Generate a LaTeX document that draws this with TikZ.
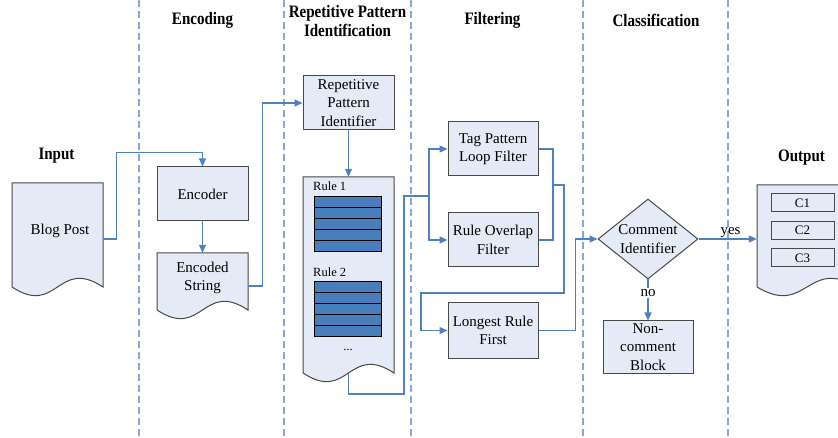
\documentclass[tikz,border=0pt]{standalone}
\usepackage{fontspec}
\setmainfont{Liberation Serif}
\newfontfamily\headfont[FakeStretch=0.86]{Liberation Serif}
\usetikzlibrary{arrows.meta,calc,shapes.geometric}
\definecolor{boxfill}{RGB}{228,234,246}
\definecolor{boxline}{RGB}{72,72,72}
\definecolor{connblue}{RGB}{79,129,189}
\definecolor{dashblue}{RGB}{135,168,214}
\definecolor{barblue}{RGB}{74,126,187}
\begin{document}
\begin{tikzpicture}[x=1pt,y=-1pt,
  head/.style={font=\headfont\bfseries\fontsize{17.5}{18.5}\selectfont, align=center, inner sep=0pt},
  txt/.style={font=\fontsize{15}{18.5}\selectfont, align=center, inner sep=0pt},
  box/.style={draw=boxline, fill=boxfill, line width=1pt, minimum width=91pt, minimum height=54pt, inner sep=1pt, align=center, font=\fontsize{15}{18.5}\selectfont},
  docline/.style={draw=boxline, fill=boxfill, line width=1pt},
  docnode/.style={draw=none, inner sep=0pt, align=center, font=\fontsize{15}{18.5}\selectfont},
  conn/.style={draw=connblue, line width=1.2pt, -{Triangle[length=8pt,width=7pt]}},
  plainconn/.style={draw=connblue, line width=1.2pt},
  sep/.style={draw=dashblue, line width=1.5pt, dash pattern=on 7pt off 4pt},
  bar/.style={draw=black, fill=barblue, line width=0.8pt},
  cbox/.style={draw=boxline, fill=boxfill, line width=1pt, minimum width=63pt, minimum height=18pt, inner sep=0pt, font=\fontsize{13}{14}\selectfont}
]
\useasboundingbox (0,0) rectangle (838,438);
\clip (0,0) rectangle (838,438);

% separators
\foreach \x in {139,284,411,583,728} \draw[sep] (\x,0) -- (\x,438);

% headings
\node[head] (hin)  at (56.5,156) {Input};
\node[head] (henc) at (202.5,20) {Encoding};
\node[head] (hrep) at (347.5,21) {Repetitive Pattern\\Identification};
\node[head] (hfil) at (492.5,20) {Filtering};
\node[head] (hcla) at (656,20) {Classification};
\node[head] (hout) at (801.5,158) {Output};

% Blog post document
\path[docline] (12,183) -- (103,183) -- (103,287) .. controls (57.5,257) and (57.5,317) .. (12,287) -- cycle;
\node[docnode, minimum width=91pt, minimum height=104pt] (blog) at (57.5,235) {};
\node[txt] at (60,231) {Blog Post};

% Encoder
\node[box] (enc) at (202.5,194) {Encoder};

% Encoded string document
\path[docline] (157,253) -- (248,253) -- (248,310) .. controls (202.5,280) and (202.5,340) .. (157,310) -- cycle;
\node[docnode, minimum width=91pt, minimum height=57pt] (encstr) at (202.5,281.5) {};
\node[txt] at (202.5,278) {Encoded\\String};

% Repetitive pattern identifier
\node[box] (rpi) at (348.5,103) {Repetitive\\Pattern\\Identifier};

% Rule document
\path[docline] (303,177) -- (394,177) -- (394,373) .. controls (348.5,343) and (348.5,403) .. (303,373) -- cycle;
\node[docnode, minimum width=91pt, minimum height=196pt] (rules) at (348.5,275) {};
\node[txt, anchor=west, font=\fontsize{12.5}{14}\selectfont] (r1) at (313,186) {Rule 1};
\node[txt, anchor=west, font=\fontsize{12.5}{14}\selectfont] (r2) at (313,272) {Rule 2};
\foreach \i in {0,...,4} {
  \draw[bar] (314,196+11*\i) rectangle (381,207+11*\i);
  \draw[bar] (314,281+11*\i) rectangle (381,292+11*\i);
}
\node[txt, font=\fontsize{12.5}{14}\selectfont] (dots) at (348,350) {...};

% Filters
\node[box, minimum width=90pt] (tpl) at (493,149) {Tag Pattern\\Loop Filter};
\node[box, minimum width=90pt] (rof) at (493,240) {Rule Overlap\\Filter};
\node[box, minimum width=90pt, minimum height=55pt] (lrf) at (493,330.5) {Longest Rule\\First};

% Comment identifier
\node[diamond, draw=boxline, fill=boxfill, line width=1pt, minimum width=100pt, minimum height=80pt, inner sep=0pt] (ci) at (648,239) {};
\node[txt] at (648,239) {Comment\\Identifier};

% Non-comment block
\node[box, minimum width=90pt, minimum height=52pt] (nc) at (648,347) {Non-\\comment\\Block};

% Output document
\path[docline] (757,185) -- (857,185) -- (857,287) .. controls (807,257) and (807,317) .. (757,287) -- cycle;
\node[docnode, minimum width=100pt, minimum height=102pt] (out) at (807,236) {};
\node[cbox] (c1) at (802.5,203) {C1};
\node[cbox] (c2) at (802.5,230.5) {C2};
\node[cbox] (c3) at (802.5,258) {C3};

% connectors
\draw[conn] ($(blog.east)+(0,4)$) -- ++(13,0) |- ($(enc.north)+(0,-14)$) -- (enc.north);
\draw[conn] (enc.south) -- (encstr.north);
\draw[conn] ($(encstr.east)+(0,4.5)$) -- ++(14,0) |- (rpi.west);
\draw[conn] (rpi.south) -- (rules.north);
\coordinate (split) at (429,196);
\draw[plainconn] (348.5,373) -- (348.5,394) -- (404,394) -- (404,196) -- (split);
\draw[conn] (split) |- (tpl.west);
\draw[conn] (split) |- (rof.west);
\draw[plainconn] (tpl.east) -- (553,149) -- (553,240) -- (rof.east);
\draw[conn] (553,185) -- (564,185) -- (564,293) -- (421,293) |- (lrf.west);
\draw[conn] (lrf.east) -- ++(37,0) |- (ci.west);
\draw[conn] (ci.east) -- (ci.east -| out.west) node[pos=0.55, above=1pt, txt] {yes};
\draw[conn] (ci.south) -- (nc.north);
\node[txt, fill=white, inner sep=1pt] (nolab) at (648,293) {no};
\end{tikzpicture}
\end{document}
